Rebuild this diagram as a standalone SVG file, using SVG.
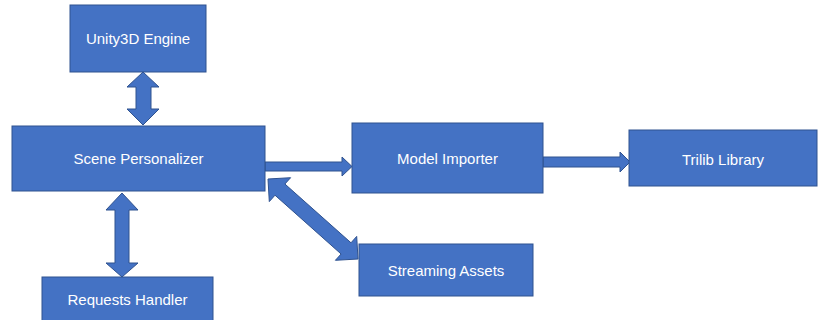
<svg xmlns="http://www.w3.org/2000/svg" width="818" height="320" viewBox="0 0 818 320">
<style>
.box{fill:#4472C4;stroke:#2F528F;stroke-width:1}
.lbl{fill:#FFFFFF;font-family:"Liberation Sans",Arial,sans-serif;font-size:15px;text-anchor:middle}
.arr{fill:#4472C4;stroke:#2F528F;stroke-width:1;stroke-linejoin:miter}
</style>
<rect width="818" height="320" fill="#FFFFFF"/>
<g id="connectors">
<polygon class="arr" points="143,72 159,87 151,87 151,109 159,109 143,125 127,109 136,109 136,87 127,87"/>
<polygon class="arr" points="122,193 138,210 129,210 129,263 138,263 122,277 106,263 115,263 115,210 106,210"/>
<polygon class="arr" points="265,162 342,162 342,157 352,166.5 342,176 342,171 265,171"/>
<polygon class="arr" points="543,157 620,157 620,152 630,162 620,172 620,167 543,167"/>
<polygon class="arr" points="268,179 290.6,177.7 284.9,184 351,242.8 356.7,236.4 358,259 335.4,260.3 341.1,254 275,195.2 269.3,201.6"/>
</g>
<g id="unity">
<rect class="box" x="70" y="5" width="136" height="67"/>
<text class="lbl" x="138" y="44">Unity3D Engine</text>
</g>
<g id="scene">
<rect class="box" x="12" y="126" width="253" height="65"/>
<text class="lbl" x="138.5" y="164">Scene Personalizer</text>
</g>
<g id="requests">
<rect class="box" x="42" y="277" width="171" height="46"/>
<text class="lbl" x="127.5" y="305">Requests Handler</text>
</g>
<g id="model">
<rect class="box" x="352" y="123" width="191" height="70"/>
<text class="lbl" x="447.5" y="164">Model Importer</text>
</g>
<g id="streaming">
<rect class="box" x="359" y="244" width="174" height="52"/>
<text class="lbl" x="446" y="275.5">Streaming Assets</text>
</g>
<g id="trilib">
<rect class="box" x="629" y="130" width="188" height="56"/>
<text class="lbl" x="723" y="164.5">Trilib Library</text>
</g>
</svg>
